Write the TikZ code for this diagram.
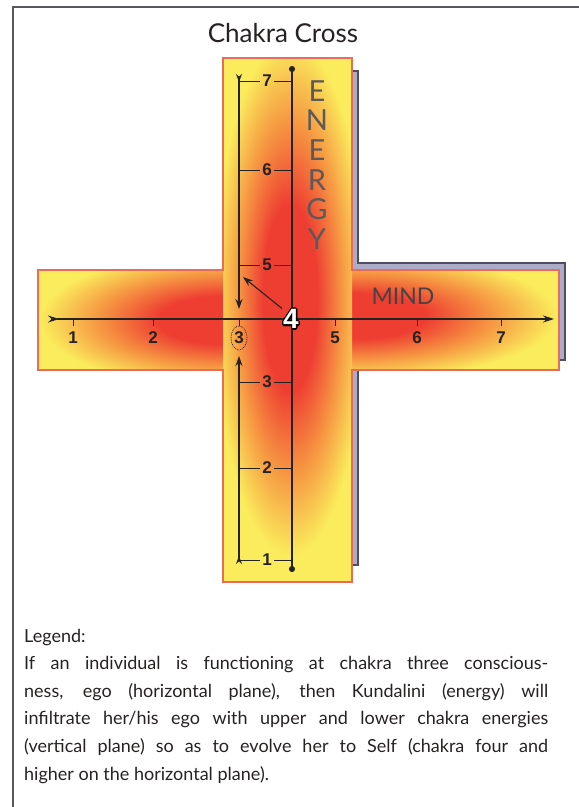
\documentclass[tikz,border=0pt]{standalone}
\usepackage{fontspec}
\setmainfont{Lato}
\newfontfamily\numfont{Liberation Sans}
\usepackage{xcolor}
\usepackage[copies]{contour}
\usetikzlibrary{arrows.meta,shapes.geometric}
\definecolor{armyellow}{RGB}{250,236,92}
\definecolor{armorange}{RGB}{246,150,66}
\definecolor{armred}{RGB}{238,62,50}
\definecolor{armedge}{RGB}{232,108,88}
\definecolor{shadowfill}{RGB}{172,172,200}
\definecolor{shadowedge}{RGB}{78,78,94}
\definecolor{ink}{RGB}{38,34,34}
\definecolor{framegray}{RGB}{88,88,94}
\pgfdeclareradialshading{glow}{\pgfpoint{0bp}{0bp}}{color(0bp)=(armred); color(9bp)=(armred); color(17bp)=(armorange); color(25bp)=(armyellow); color(50bp)=(armyellow)}
\contourlength{1.3pt}

\begin{document}
\begin{tikzpicture}[x=1pt,y=1pt,
  axis/.style={ink,line width=1.3pt},
  numlabel/.style={font=\numfont\bfseries\fontsize{17}{17}\selectfont,text=ink,inner sep=2.5pt},
  bigword/.style={font=\fontsize{#1}{#1}\selectfont,text=ink!85,inner sep=0pt},
  legendtext/.style={font=\fontsize{18}{27.6}\selectfont,text=ink,align=left,inner sep=0pt}]
  \useasboundingbox (0,0) rectangle (579,-807);
  \draw[framegray,line width=1.6pt] (579,-7) -- (13,-7) -- (13,-807);
  \node[bigword=26,text=ink] (title) at (283,-33) {Chakra Cross};
  % shadow behind the cross
  \filldraw[fill=shadowfill,draw=shadowedge,line width=1.4pt] (230,-71) -- (358,-71) -- (358,-263) -- (565,-263)
    -- (565,-360) -- (358,-360) -- (358,-565) -- (230,-565) -- cycle;
  \fill[armyellow] (38,-270) rectangle (559,-370);
  \begin{scope}
    \clip (38,-270) rectangle (290,-370);
    \shade[shading=glow] (225,-320) ellipse (185 and 68);
  \end{scope}
  \begin{scope}
    \clip (290,-270) rectangle (559,-370);
    \shade[shading=glow] (352,-316) ellipse (205 and 64);
  \end{scope}
  \fill[armyellow] (223,-58) rectangle (352,-582);
  \begin{scope}
    \clip (223,-58) rectangle (352,-582);
    \shade[shading=glow] (290,-298) ellipse (76 and 258);
  \end{scope}
  \draw[armedge,line width=1.2pt] (223,-58) -- (352,-58) -- (352,-270) -- (559,-270) -- (559,-370) -- (352,-370)
    -- (352,-582) -- (223,-582) -- (223,-370) -- (38,-370) -- (38,-270) -- (223,-270) -- cycle;
  % axes
  \coordinate (htail) at (48,-319);
  \coordinate (hhead) at (554,-319);
  \coordinate (vtop) at (292,-66);
  \coordinate (vbot) at (292,-572);
  \coordinate (ltop) at (239,-74);
  \coordinate (ldown) at (239,-309);
  \coordinate (lbot) at (239,-564);
  \coordinate (lup) at (239,-356);
  \coordinate (lhit) at (243,-277);
  \draw[axis,{Stealth[reversed,length=11pt,width=7pt]}-{Stealth[length=11pt,width=7pt]}] (htail) -- (hhead);
  \draw[axis,{Circle[length=6pt]}-{Circle[length=6pt]}] (vtop) -- (vbot);
  \draw[axis,{Stealth[reversed,length=8pt,width=6pt]}-{Stealth[length=10pt,width=7pt]}] (ltop) -- (ldown);
  \draw[axis,{Stealth[reversed,length=8pt,width=6pt]}-{Stealth[length=10pt,width=7pt]}] (lbot) -- (lup);
  \foreach \xpos/\num in {73/1,153/2,239/3,335/5,417/6,501/7} {
    \draw[axis,line width=1pt] (\xpos,-319) -- (\xpos,-326);
    \node[numlabel] (h\num) at (\xpos,-338) {\num};
  }
  \node[ellipse,draw=ink,densely dotted,line width=0.8pt,minimum width=16,minimum height=24,inner sep=0pt] (ring) at (h3) {};
  \foreach \ypos/\num in {81/7,170/6,265/5,382/3,468/2,560/1} {
    \node[numlabel] (v\num) at (267,-\ypos) {\num};
    \draw[axis,line width=1pt] (239,-\ypos) -- (v\num.west);
    \draw[axis,line width=1pt] (v\num.east) -- (292,-\ypos);
  }
  \node[font=\numfont\bfseries\fontsize{28}{28}\selectfont,text=white,inner sep=1pt] (four) at (291,-320) {\contour{black}{4}};
  \draw[axis,line width=1.1pt,-{Stealth[length=10pt,width=7pt]}] (four.north west) -- (lhit);
  % words
  \node[bigword=29,text=ink!75,align=center,font=\fontsize{29}{29.6}\selectfont] (energy) at (317,-165) {E\\N\\E\\R\\G\\Y};
  \node[bigword=23] (mind) at (403,-296) {MIND};
  \node[legendtext,anchor=base west] (legend) at (24,-780) {Legend:\\
    \makebox[524pt][s]{If an individual is functioning at chakra three conscious-}\\
    \makebox[524pt][s]{ness, ego (horizontal plane), then Kundalini (energy) will}\\
    \makebox[524pt][s]{infiltrate her/his ego with upper and lower chakra energies}\\
    \makebox[524pt][s]{(vertical plane) so as to evolve her to Self (chakra four and}\\
    higher on the horizontal plane).};
\end{tikzpicture}
\end{document}
